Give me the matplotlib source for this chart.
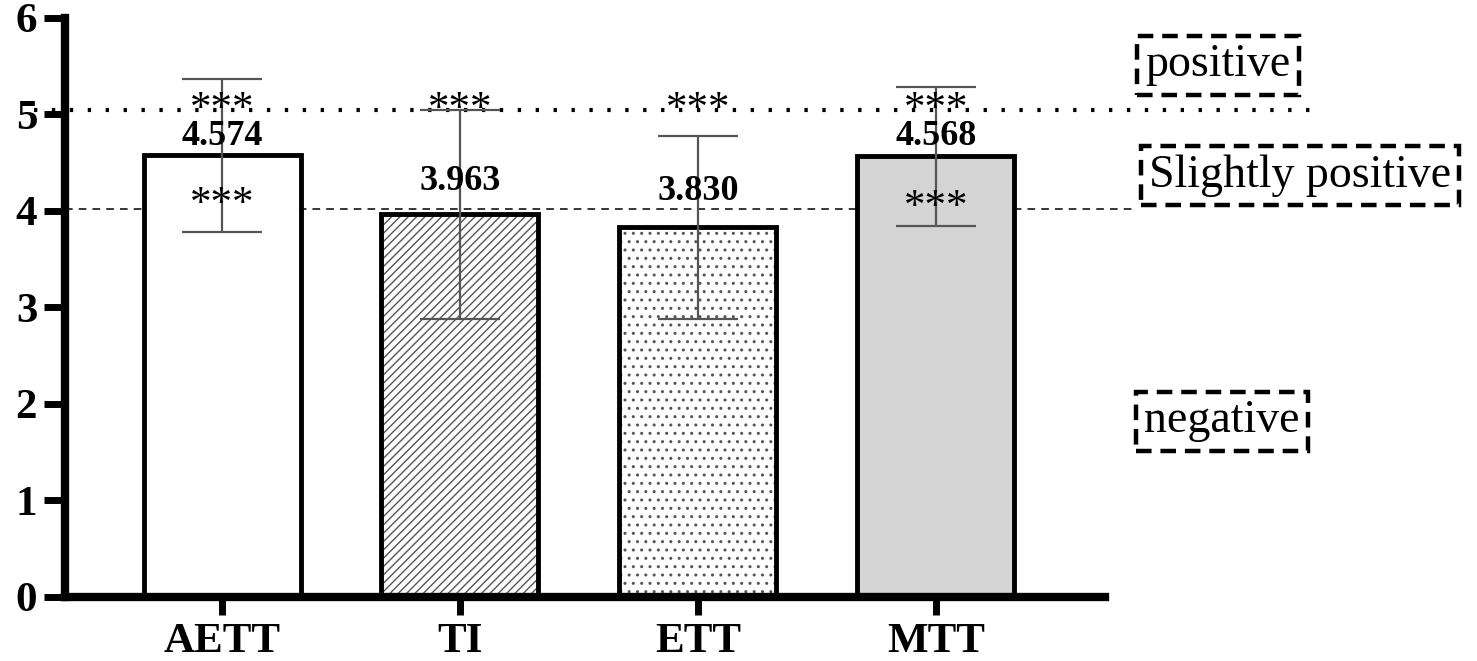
import matplotlib.pyplot as plt
from matplotlib import transforms
import numpy as np

plt.rcParams['font.family'] = ['Liberation Serif', 'DejaVu Serif']
plt.rcParams['hatch.linewidth'] = 1.0

groups = ['AETT', 'TI', 'ETT', 'MTT']
means = [4.574, 3.963, 3.830, 4.568]
sds = [0.79, 1.08, 0.95, 0.72]
mean_labels = ['4.574', '3.963', '3.830', '4.568']
label_y = [4.77, 4.30, 4.20, 4.77]
star_top_y = [5.05, 5.05, 5.05, 5.05]
star_low_y = [4.06, None, None, 4.03]
positive_line = 5.05
slight_line = 4.02

faces = ['white', 'white', 'white', '#d4d4d4']
hatches = [None, '////', '..', None]

fig = plt.figure(figsize=(14.77, 6.61), dpi=100)
ax = fig.add_axes([0.044, 0.097, 0.704, 0.876])

x = np.arange(len(groups))
w = 0.66
# fill + hatch (gray hatch lines), then black outline on top
ax.bar(x, means, w, color=faces, edgecolor='#555555', linewidth=0,
       hatch=hatches, zorder=2)
ax.bar(x, means, w, fill=False, edgecolor='black', linewidth=3.5, zorder=3)
ax.errorbar(x, means, yerr=sds, fmt='none', ecolor='#555555', elinewidth=1.6,
            capsize=29, capthick=1.6, zorder=4)

for i in range(len(groups)):
    ax.text(x[i], label_y[i], mean_labels[i], ha='center', va='center',
            fontsize=26, fontweight='bold', zorder=5)
    ax.text(x[i], star_top_y[i], '***', ha='center', va='center',
            fontsize=31, zorder=5)
    if star_low_y[i] is not None:
        ax.text(x[i], star_low_y[i], '***', ha='center', va='center',
                fontsize=31, zorder=5)

tr = transforms.blended_transform_factory(ax.transAxes, ax.transData)
ax.plot([-0.03, 1.197], [positive_line] * 2, transform=tr, clip_on=False,
        color='black', lw=3, linestyle=(0, (0.8, 3.5)), zorder=1)
ax.plot([0.0, 1.03], [slight_line] * 2, transform=tr, clip_on=False,
        color='black', lw=1.1, linestyle=(0, (5, 4)), zorder=1)

ax.set_xlim(-0.66, 3.71)
ax.set_ylim(0, 6)
ax.set_xticks(x)
ax.set_xticklabels(groups, fontsize=31, fontweight='bold')
ax.set_yticks(range(7))
ax.set_yticklabels([str(v) for v in range(7)], fontsize=31, fontweight='bold')
ax.tick_params(axis='y', length=15, width=5, direction='out', pad=5)
ax.tick_params(axis='x', length=13, width=5, direction='out', pad=6)
for s in ['top', 'right']:
    ax.spines[s].set_visible(False)
for s in ['left', 'bottom']:
    ax.spines[s].set_linewidth(6)

box = dict(boxstyle='square,pad=0.18', facecolor='white', edgecolor='black',
           linewidth=3.2, linestyle=(0, (3.5, 2)))
fig.text(1218 / 1477, 1 - 65 / 661, 'positive', ha='center', va='center',
         fontsize=33, bbox=box)
fig.text(1300 / 1477, 1 - 176 / 661, 'Slightly positive', ha='center',
         va='center', fontsize=33, bbox=box)
fig.text(1222 / 1477, 1 - 421 / 661, 'negative', ha='center', va='center',
         fontsize=33, bbox=box)

fig.savefig('out.png', dpi=100)
